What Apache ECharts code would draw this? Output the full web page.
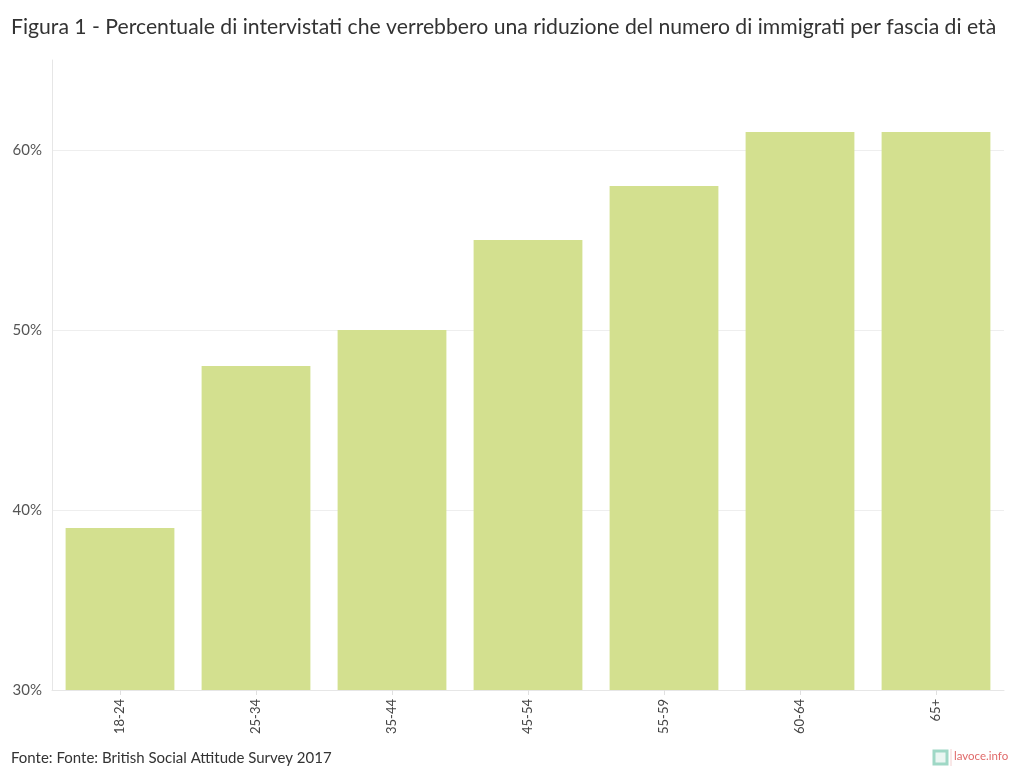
<!DOCTYPE html>
<html><head><meta charset="utf-8">
<script src="https://cdn.jsdelivr.net/npm/echarts@6/dist/echarts.min.js"></script>
<style>html,body{margin:0;padding:0;background:#fff}#c{width:1020px;height:783px}</style>
</head><body><div id="c"></div>
<script>
const categories = ['18-24','25-34','35-44','45-54','55-59','60-64','65+'];
const values = [39, 48, 50, 55, 58, 61, 61];
const yTicks = [30, 40, 50, 60];
const titleText = 'Figura 1 - Percentuale di intervistati che verrebbero una riduzione del numero di immigrati per fascia di età';
const sourceText = 'Fonte: Fonte: British Social Attitude Survey 2017';
const FONT = 'Lato, "Noto Sans", sans-serif';

const chart = echarts.init(document.getElementById('c'), null, {renderer:'canvas'});
chart.setOption({
  animation: false,
  textStyle: {fontFamily: FONT},
  title: {
    text: titleText, left: 6, top: 12,
    textStyle: {fontFamily: FONT, fontSize: 21.2, fontWeight: 'normal', color: '#333'}
  },
  grid: {left: 52, right: 16, top: 60, bottom: 93, containLabel: false},
  xAxis: {
    type: 'category', data: categories,
    axisLine: {show: true, lineStyle: {color: '#e6e6e6'}},
    axisTick: {show: true, alignWithLabel: true, length: 5, lineStyle: {color: '#e0e0e0'}},
    axisLabel: {rotate: 90, fontSize: 13, color: '#444', margin: 9, fontFamily: FONT}
  },
  yAxis: {
    type: 'value', min: 30, max: 65, interval: 10,
    axisLine: {show: true, lineStyle: {color: '#e6e6e6'}},
    axisTick: {show: false},
    splitLine: {show: true, showMaxLine: false, lineStyle: {color: '#eeeeee'}},
    axisLabel: {fontSize: 15, color: '#555', margin: 10, fontFamily: FONT, showMaxLabel: false,
      formatter: v => yTicks.includes(v) ? v + '%' : ''}
  },
  series: [{
    type: 'bar', data: values, barWidth: '80%',
    itemStyle: {color: '#d3e08f'}
  }],
  graphic: [
    {type: 'text', left: 11, top: 751, style: {text: sourceText, fontFamily: FONT, fontSize: 15, fill: '#333'}},
    {type: 'rect', shape: {x: 934, y: 751, width: 13, height: 13}, style: {fill: '#eaf6f2', stroke: '#9fd8c6', lineWidth: 3}},
    {type: 'line', shape: {x1: 951, y1: 749, x2: 951, y2: 766}, style: {stroke: '#f3d0d0', lineWidth: 1}},
    {type: 'text', left: 954, top: 750, style: {text: 'lavoce.info', fontFamily: FONT, fontSize: 11.5, fill: '#e06a6a'}}
  ]
});
</script></body></html>
